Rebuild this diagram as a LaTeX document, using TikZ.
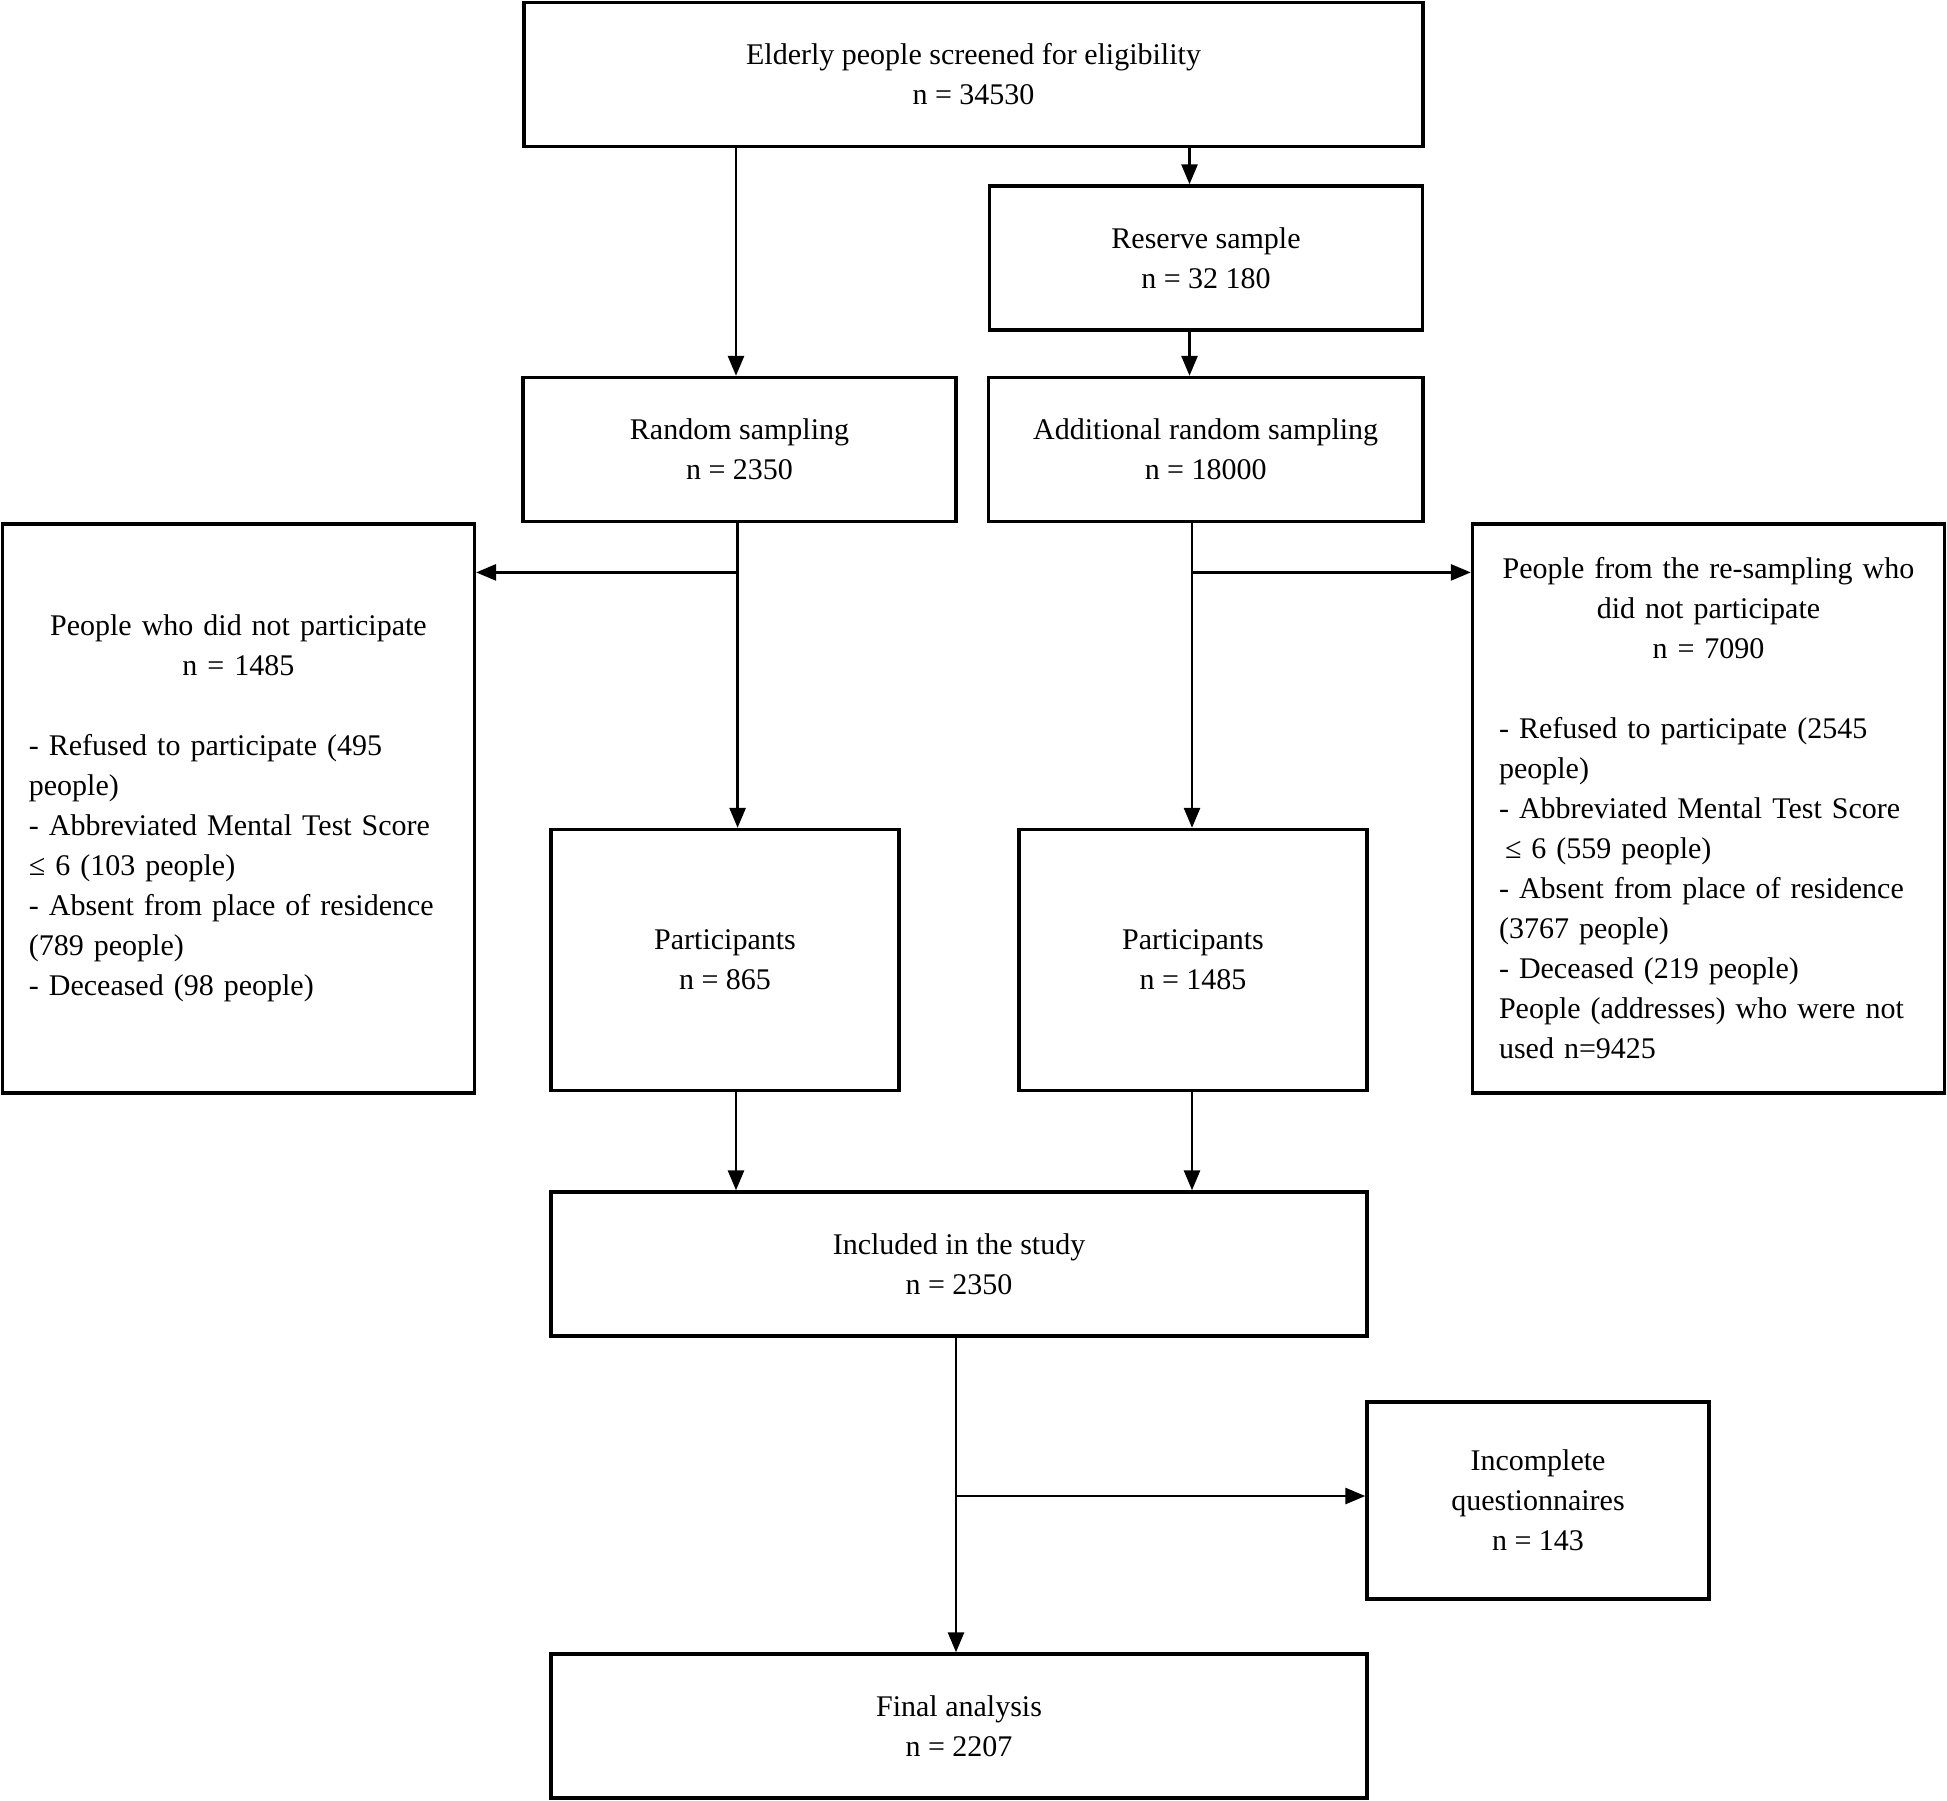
\documentclass[tikz,border=0pt]{standalone}
\usepackage{fontspec}
\setmainfont{Liberation Serif}
\usetikzlibrary{arrows.meta}
\begin{document}
\begin{tikzpicture}[x=0.5pt,y=-0.5pt,
  box/.style={draw, line width=1.7pt, inner sep=0pt, align=center,
    font=\fontsize{15}{20}\selectfont},
  listbox/.style={box, text width=209.5pt, align=left},
  arr/.style={line width=1.4pt, -{Triangle[length=10pt,width=8pt]}}]
\useasboundingbox (0,0) rectangle (1947,1800);

\node[box, minimum width=449.5pt, minimum height=72pt] (top) at (973.5,74.5)
  {Elderly people screened for eligibility\\ n = 34530};
\node[box, minimum width=216.5pt, minimum height=72pt] (res) at (1206,258)
  {Reserve sample\\ n = 32 180};
\node[box, minimum width=216.5pt, minimum height=72pt] (rand) at (739.5,449.5)
  {Random sampling\\ n = 2350};
\node[box, minimum width=217.3pt, minimum height=72pt] (add) at (1205.7,449.5)
  {Additional random sampling\\ n = 18000};
\node[listbox, minimum width=236pt, minimum height=284.5pt] (left) at (238.4,808.4)
  {{\centering People who did not participate\\ n = 1485\par}\vspace{20pt}%
  - Refused to participate (495\\ people)\\ - Abbreviated Mental Test Score\\
  ≤ 6 (103 people)\\ - Absent from place of residence\\ (789 people)\\
  - Deceased (98 people)};
\node[listbox, minimum width=236pt, minimum height=284.5pt] (right) at (1708.5,808.4)
  {{\centering People from the re-sampling who\\ did not participate\\ n = 7090\par}\vspace{20pt}%
  - Refused to participate (2545\\ people)\\ - Abbreviated Mental Test Score\\
  \hspace*{3pt}≤ 6 (559 people)\\ - Absent from place of residence\\ (3767 people)\\
  - Deceased (219 people)\\ People (addresses) who were not\\ used n=9425};
\node[box, minimum width=174pt, minimum height=130.5pt] (pl) at (725,960)
  {Participants\\ n = 865};
\node[box, minimum width=174pt, minimum height=130.5pt] (pr) at (1193,960)
  {Participants\\ n = 1485};
\node[box, minimum width=408pt, minimum height=72pt] (inc) at (959,1264)
  {Included in the study\\ n = 2350};
\node[box, minimum width=171pt, minimum height=98.5pt] (incq) at (1538,1500.5)
  {Incomplete\\ questionnaires\\ n = 143};
\node[box, minimum width=408pt, minimum height=72pt] (fin) at (959,1726)
  {Final analysis\\ n = 2207};

\coordinate (xA) at (736,0);
\coordinate (xB) at (1189.5,0);
\coordinate (xC) at (737.6,0);
\coordinate (xD) at (1192,0);
\coordinate (xE) at (956,0);
\coordinate (bL) at (737.6,572.4);
\coordinate (bR) at (1192,572.4);
\coordinate (bI) at (956,1496);

\draw[arr] (top.south -| xA) -- (rand.north -| xA);
\draw[arr] (top.south -| xB) -- (res.north -| xB);
\draw[arr] (res.south -| xB) -- (add.north -| xB);
\draw[arr] (rand.south -| xC) -- (pl.north -| xC);
\draw[arr] (bL) -- (left.east |- bL);
\draw[arr] (add.south -| xD) -- (pr.north -| xD);
\draw[arr] (bR) -- (right.west |- bR);
\draw[arr] (pl.south -| xA) -- (inc.north -| xA);
\draw[arr] (pr.south -| xD) -- (inc.north -| xD);
\draw[arr] (inc.south -| xE) -- (fin.north -| xE);
\draw[arr] (bI) -- (incq.west |- bI);
\end{tikzpicture}
\end{document}
